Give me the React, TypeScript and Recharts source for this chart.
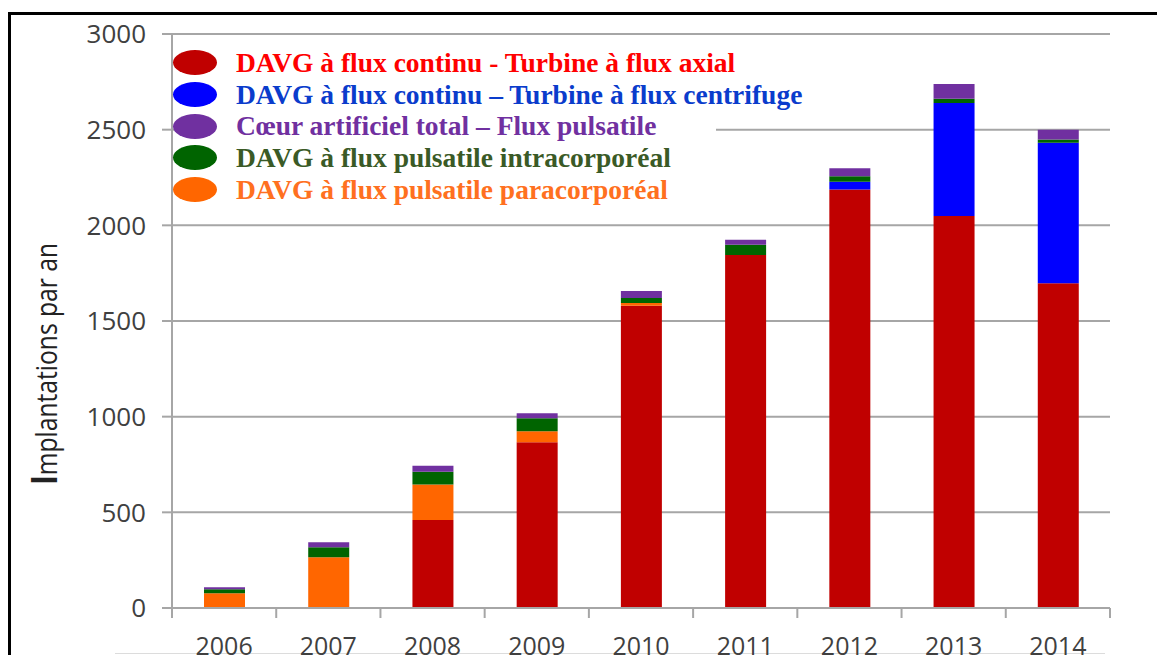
import { Bar, BarChart, CartesianGrid, XAxis, YAxis } from "recharts";

const years = ["2006", "2007", "2008", "2009", "2010", "2011", "2012", "2013", "2014"];
const axial = [0, 0, 460, 866, 1580, 1845, 2187, 2049, 1697];
const paracorporeal = [77, 265, 185, 58, 14, 0, 0, 0, 0];
const centrifuge = [0, 0, 0, 0, 0, 0, 41, 591, 734];
const intracorporeal = [21, 52, 67, 68, 26, 54, 28, 21, 17];
const totalHeart = [10, 26, 32, 26, 37, 26, 42, 78, 52];
const yTicks = [0, 500, 1000, 1500, 2000, 2500, 3000];

const data = years.map((year, i) => ({
  year,
  axial: axial[i],
  paracorporeal: paracorporeal[i],
  centrifuge: centrifuge[i],
  intracorporeal: intracorporeal[i],
  totalHeart: totalHeart[i],
}));

// bottom -> top stacking order
const series = [
  { key: "axial", fill: "#c00000" },
  { key: "paracorporeal", fill: "#ff6600" },
  { key: "centrifuge", fill: "#0000ff" },
  { key: "intracorporeal", fill: "#006400" },
  { key: "totalHeart", fill: "#7030a0" },
];

const legendItems = [
  { label: "DAVG à flux continu - Turbine à flux axial", dot: "#c00000", text: "#ff0000" },
  { label: "DAVG à flux continu – Turbine à flux centrifuge", dot: "#0000ff", text: "#0a3ccc" },
  { label: "Cœur artificiel total – Flux pulsatile", dot: "#7030a0", text: "#7030a0" },
  { label: "DAVG à flux pulsatile intracorporéal", dot: "#006400", text: "#3a5a26" },
  { label: "DAVG à flux pulsatile paracorporéal", dot: "#ff6600", text: "#ff7020" },
];

const W = 1157;
const H = 655;
const M = { top: 34, right: 47, left: 0, bottom: 0 };
const Y_W = 172;
const X_H = 47;
const PLOT_W = W - M.right - Y_W;
const GRID = "#a6a6a6";
const FONT = "'Open Sans', sans-serif";

const XTick = (props: any) => {
  const { x, y, payload, index } = props;
  const half = PLOT_W / years.length / 2;
  return (
    <g>
      <line x1={x - half} x2={x - half} y1={y} y2={y + 10} stroke={GRID} strokeWidth={2} />
      {index === years.length - 1 && (
        <line x1={x + half} x2={x + half} y1={y} y2={y + 10} stroke={GRID} strokeWidth={2} />
      )}
      <text x={x} y={y + 29} dy="0.71em" textAnchor="middle" fill="#404040" fontSize={25} fontFamily={FONT}>
        {payload.value}
      </text>
    </g>
  );
};

const YTitle = () => (
  <text
    x={57}
    y={364}
    transform="rotate(-90 57 364)"
    textAnchor="middle"
    fill="#222"
    fontSize={30}
    fontFamily={FONT}
    textLength={242}
    lengthAdjust="spacingAndGlyphs"
  >
    <tspan fontWeight="bold" fontSize={36}>I</tspan>
    mplantations par an
  </text>
);

export default function App() {
  return (
    <div style={{ position: "absolute", left: 0, top: 0, width: W, height: H, overflow: "hidden", background: "#fff" }}>
      <div
        style={{
          position: "absolute",
          left: 8,
          top: 12,
          width: W,
          height: H,
          borderTop: "3px solid #000",
          borderLeft: "3px solid #000",
        }}
      />
      <div style={{ position: "absolute", left: 115, top: 653, width: 990, height: 1, background: "#dcdcdc" }} />
      <div style={{ position: "absolute", left: 0, top: 0 }}>
        <BarChart width={W} height={H} data={data} margin={M} barSize={41}>
          <CartesianGrid vertical={false} stroke={GRID} strokeWidth={2} />
          <XAxis
            dataKey="year"
            height={X_H}
            tickLine={false}
            tickSize={0}
            tickMargin={0}
            axisLine={{ stroke: GRID, strokeWidth: 2 }}
            tick={<XTick />}
            interval={0}
          />
          <YAxis
            width={Y_W}
            domain={[0, 3000]}
            ticks={yTicks}
            tickSize={10}
            tickMargin={16}
            tickLine={{ stroke: GRID, strokeWidth: 2 }}
            axisLine={{ stroke: GRID, strokeWidth: 2 }}
            tick={{ fill: "#404040", fontSize: 26, fontFamily: FONT }}
            label={<YTitle />}
          />
          {series.map((s) => (
            <Bar key={s.key} dataKey={s.key} stackId="a" fill={s.fill} isAnimationActive={false} />
          ))}
        </BarChart>
      </div>
      <div style={{ position: "absolute", left: 173, top: 47 }}>
        {legendItems.map((item) => (
          <div
            key={item.label}
            style={{
              display: "flex",
              alignItems: "center",
              height: 31.7,
              background: "linear-gradient(to right, transparent 22px, #fff 22px)",
              width: "fit-content",
              paddingRight: 60,
            }}
          >
            <div style={{ width: 44, height: 25, borderRadius: "50%", background: item.dot, marginRight: 19 }} />
            <span
              style={{
                fontFamily: "'Liberation Serif', 'Times New Roman', serif",
                fontWeight: "bold",
                fontSize: 27.5,
                color: item.text,
                whiteSpace: "nowrap",
              }}
            >
              {item.label}
            </span>
          </div>
        ))}
      </div>
    </div>
  );
}
